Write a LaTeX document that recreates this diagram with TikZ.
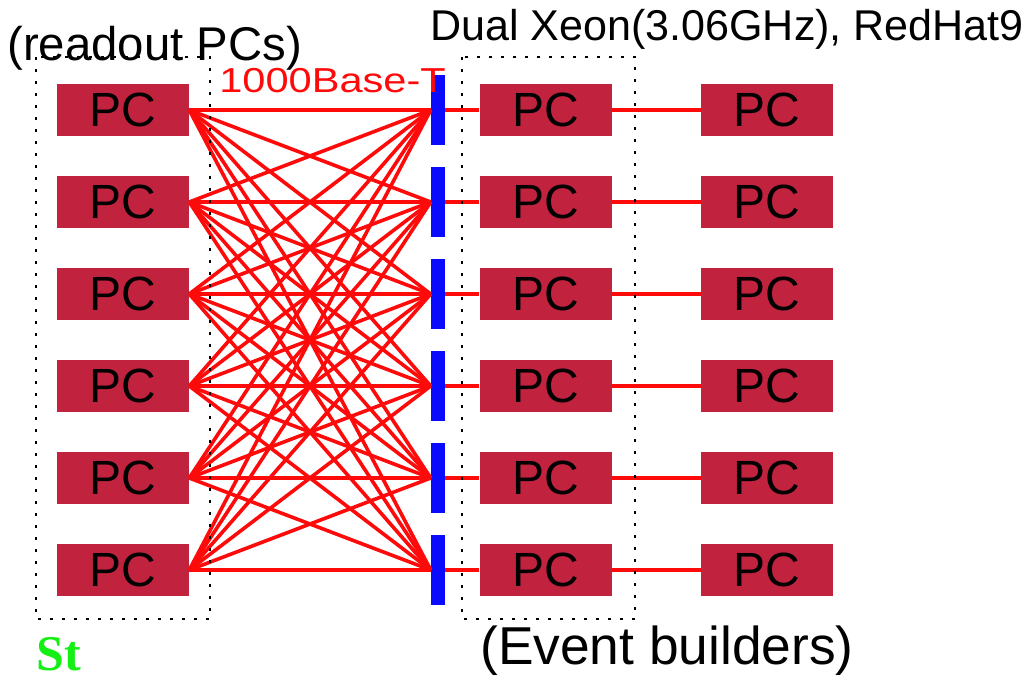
\documentclass[tikz,border=0pt]{standalone}
\usepackage{fontspec}
\setmainfont{Liberation Sans}
\newfontfamily\stfont{Liberation Serif}
\usetikzlibrary{positioning}
\definecolor{pcred}{RGB}{193,35,63}
\definecolor{linkred}{RGB}{255,10,10}
\definecolor{swblue}{RGB}{10,10,255}
\definecolor{stgreen}{RGB}{20,240,20}
\tikzset{
  pcbox/.style={fill=pcred, minimum width=99pt, minimum height=39pt, inner sep=0pt, font=\fontsize{36pt}{40pt}\selectfont},
  switchbar/.style={fill=swblue, minimum width=10.5pt, minimum height=52.5pt, inner sep=0pt},
  mesh/.style={draw=linkred, line width=2.7pt},
  link/.style={draw=linkred, line width=3.2pt},
  groupbox/.style={draw=black, line width=2.2pt, dash pattern=on 2.2pt off 6.8pt},
  caption/.style={anchor=base west, inner sep=0pt}
}
\begin{document}
\begin{tikzpicture}[x=0.75pt, y=-0.75pt]
\useasboundingbox (0,0) rectangle (1030,683);
% readout PCs, switch ports, event builders, back-end PCs
\foreach \i in {1,...,6} {
  \node[pcbox] (rpc\i) at (123, 18+92*\i) {PC};
  \node[switchbar] (sw\i) at (438, 18+92*\i) {};
  \node[pcbox] (eb\i) at (545.5, 18+92*\i) {PC};
  \node[pcbox] (fpc\i) at (767, 18+92*\i) {PC};
}
% full mesh through the gigabit switch
\foreach \i in {1,...,6}
  \foreach \j in {1,...,6}
    \draw[mesh] (rpc\i.east) -- (sw\j.west);
\foreach \i in {1,...,6} {
  \draw[link] (sw\i.east) -- (eb\i.west);
  \draw[link] (eb\i.east) -- (fpc\i.west);
}
% dotted groups
\draw[groupbox] (36,57) rectangle (210,619);
\draw[groupbox] (462,57) rectangle (635,619);
% labels
\node[caption, font=\fontsize{35.5pt}{40pt}\selectfont] (readout) at (7,60) {(readout PCs)};
\node[caption, font=\fontsize{32.3pt}{36pt}\selectfont] (cpu) at (430,40) {Dual Xeon(3.06GHz), RedHat9};
\node[caption, text=linkred, font=\fontsize{26pt}{30pt}\selectfont] (net) at (219,92) {\scalebox{1.2}[1]{1000Base-T}};
\node[caption, font=\fontsize{40pt}{44pt}\selectfont] (evb) at (480,664) {(Event builders)};
\node[caption, text=stgreen, font=\stfont\bfseries\fontsize{37.5pt}{40pt}\selectfont] (st) at (36,670) {St};
\end{tikzpicture}
\end{document}
